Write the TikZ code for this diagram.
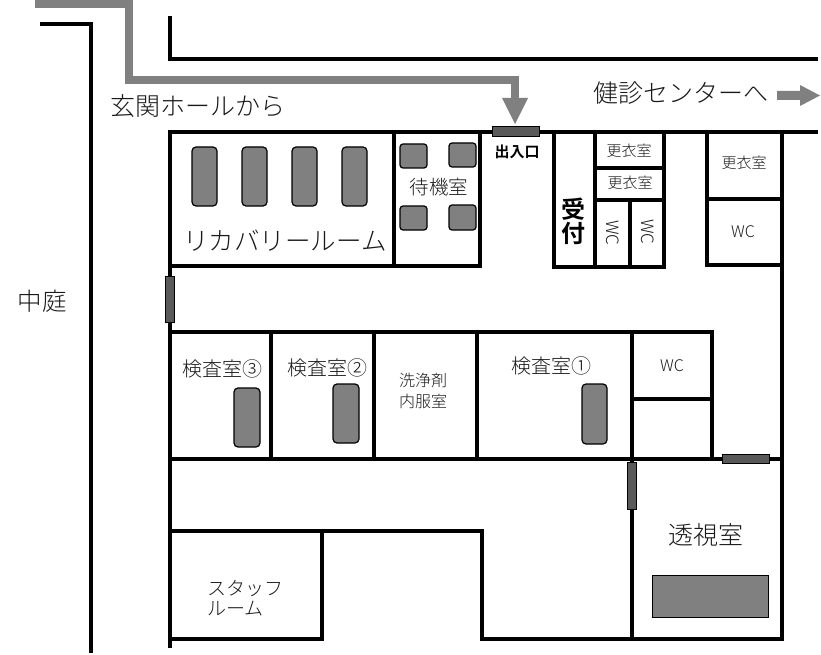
\documentclass[tikz,border=0pt]{standalone}
\usepackage{fontspec}
\setmainfont[BoldFont={Noto Sans CJK JP Bold}]{Noto Sans CJK JP Light}
\tikzset{
 wall/.style={draw=black,line width=4pt,line cap=rect,line join=miter},
 thinwall/.style={draw=black,line width=3.5pt,line cap=rect,line join=miter},
 route/.style={draw=black!50,line width=8.5pt,line join=miter},
 headfill/.style={fill=black!50,draw=none},
 door/.style={fill=black!65,draw=black,line width=1pt},
 bed/.style={fill=black!50,draw=black,line width=1.2pt,rounded corners=4pt},
 tbl/.style={fill=black!50,draw=black,line width=1pt},
 lab/.style={inner sep=0pt,text=black!90},
}
\newcommand{\fs}[1]{\fontsize{#1}{#1}\selectfont}
\begin{document}
\begin{tikzpicture}[x=1pt,y=-1pt]
\useasboundingbox (0,0) rectangle (821,655);
% outer lines
\draw[thinwall] (170,18) -- (170,59) -- (816,59);
\draw[thinwall] (42,24) -- (91,24) -- (91,651);
% route arrows
\draw[route] (35,3.5) -- (129,3.5) -- (129,80) -- (515,80) -- (515,99);
\fill[headfill] (502,98) -- (528,98) -- (515,124) -- cycle;
\fill[headfill] (777,91) -- (800,91) -- (800,85) -- (820,95.5) -- (800,106) -- (800,100) -- (777,100) -- cycle;
% upper block
\draw[wall] (816,132) -- (170,132) -- (170,646);
\draw[wall] (170,265.5) -- (480,265.5) -- (480,132);
\draw[wall] (394,132) -- (394,265);
\draw[wall] (553.5,132) -- (553.5,266.5) -- (664,266.5) -- (664,132);
\draw[wall] (595,132) -- (595,266);
\draw[wall] (630,200) -- (630,266);
\draw[wall] (595,168) -- (664,168);
\draw[wall] (595,200) -- (664,200);
\draw[wall] (707,132) -- (707,264.5) -- (782,264.5);
\draw[wall] (707,199) -- (782,199);
\draw[wall] (782,132) -- (782,639) -- (482,639) -- (482,531) -- (170,531);
% exam block
\draw[wall] (170,332) -- (712,332) -- (712,459);
\draw[wall] (170,459) -- (782,459);
\draw[wall] (271,332) -- (271,459);
\draw[wall] (374,332) -- (374,459);
\draw[wall] (477,332) -- (477,459);
\draw[wall] (632,332) -- (632,639);
\draw[wall] (632,399) -- (712,399);
\draw[wall] (322,531) -- (322,639) -- (170,639);
% doors
\draw[door] (492,127) rectangle (539,137);
\draw[door] (165,276) rectangle (174,322);
\draw[door] (627,462) rectangle (636,509);
\draw[door] (722,454) rectangle (769,463);
% beds
\foreach \x in {192,242,292,342}
  \draw[bed] (\x,147) rectangle (\x+25,206);
\draw[bed,rounded corners=3pt] (400,144) rectangle (427,168);
\draw[bed,rounded corners=3pt] (449,143) rectangle (476,167);
\draw[bed,rounded corners=3pt] (400,206) rectangle (427,230);
\draw[bed,rounded corners=3pt] (449,205) rectangle (476,230);
\draw[bed] (234,388) rectangle (260,447);
\draw[bed] (333,384) rectangle (359,443);
\draw[bed] (582,384) rectangle (607,444);
\draw[tbl] (652,575) rectangle (768,617);
% labels
\node[lab] (entry) at (198,106) {\fs{25}玄関ホールから};
\node[lab] (kenshin) at (681,93) {\fs{25}健診センターへ};
\node[lab] (court) at (42,301) {\fs{24.5}中庭};
\node[lab] (recovery) at (285,241) {\fs{25.5}リカバリールーム};
\node[lab] (wait) at (439,187) {\fs{19.5}待機室};
\node[lab,text=black] (door1) at (517,152) {\fs{15}\bfseries 出入口};
\node[lab] (kou1) at (629,151) {\fs{15}更衣室};
\node[lab] (kou2) at (630,183) {\fs{15}更衣室};
\node[lab] (kou3) at (744,163) {\fs{15}更衣室};
\node[lab,rotate=-90] (wc1) at (613,233) {\fs{17}WC};
\node[lab,rotate=-90] (wc2) at (648,232) {\fs{17}WC};
\node[lab] (wc3) at (743,232) {\fs{16}WC};
\node[lab,text=black,align=center] (uke) at (573,221) {\fs{24}\bfseries 受\\[1pt]\fs{24}\bfseries 付};
\node[lab] (ex3) at (222,369) {\fs{20}検査室③};
\node[lab] (ex2) at (327,368) {\fs{20}検査室②};
\node[lab] (ex1) at (551,366) {\fs{20}検査室①};
\node[lab,align=center] (sen) at (423,391) {\fs{16}洗浄剤\\[5pt]\fs{16}内服室};
\node[lab] (wc4) at (672,366) {\fs{16}WC};
\node[lab] (xray) at (706,535) {\fs{25}透視室};
\node[lab,align=left] (staff) at (245,598) {\fs{19}スタッフ\\[4pt]\fs{19}ルーム};
\end{tikzpicture}
\end{document}
